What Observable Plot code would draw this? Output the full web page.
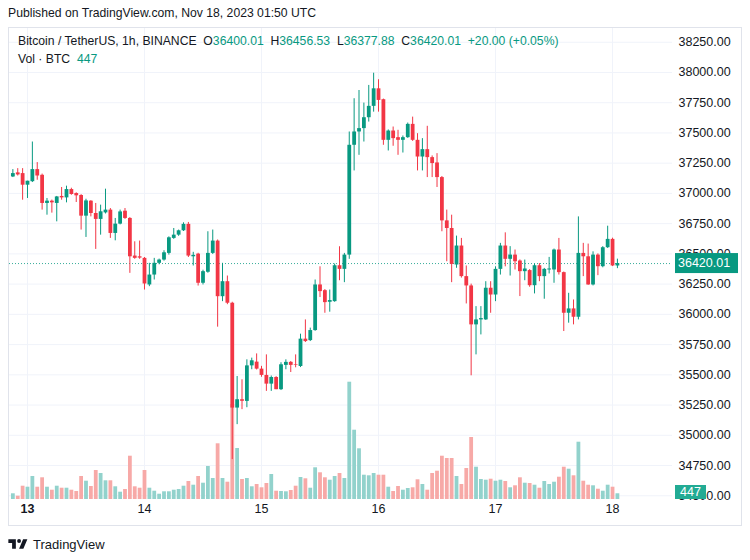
<!DOCTYPE html>
<html>
<head>
<meta charset="utf-8">
<script src="https://cdn.jsdelivr.net/npm/d3@7"></script>
<script src="https://cdn.jsdelivr.net/npm/@observablehq/plot@0.6"></script>
<style>
  html, body { margin: 0; padding: 0; background: #fff; }
  body { font-family: "Liberation Sans", Arial, sans-serif; color: #131722; }
  #wrap { position: relative; width: 750px; height: 560px; overflow: hidden; }
  #published { position: absolute; left: 8px; top: 6px; font-size: 12.2px; color: #131722; white-space: nowrap; }
  #pane { position: absolute; left: 0; top: 27px; width: 750px; height: 498px; }
  #pane svg { position: absolute; left: 0; top: 0; }
  #frame { position: absolute; left: 8px; top: 27px; width: 734px; height: 499px; box-sizing: border-box; border: 1px solid #e0e3eb; pointer-events: none; }
  .legend { position: absolute; left: 18px; font-size: 12.2px; white-space: nowrap; color: #131722; }
  .legend .v { color: #089981; }
  #footer { position: absolute; left: 8px; top: 537px; display: flex; align-items: center; gap: 5px; font-size: 13px; color: #131722; }
</style>
</head>
<body>
<div id="wrap">
  <div id="published">Published on TradingView.com, Nov 18, 2023 01:50 UTC</div>
  <div id="pane"></div>
  <div id="frame"></div>
  <div class="legend" style="top:34px">Bitcoin / TetherUS, 1h, BINANCE&nbsp;&nbsp;O<span class="v">36400.01</span>&nbsp;&nbsp;H<span class="v">36456.53</span>&nbsp;&nbsp;L<span class="v">36377.88</span>&nbsp;&nbsp;C<span class="v">36420.01</span>&nbsp;&nbsp;<span class="v">+20.00 (+0.05%)</span></div>
  <div class="legend" style="top:52px">Vol · BTC&nbsp;&nbsp;<span class="v">447</span></div>
  <div id="footer">
    <svg width="20" height="15" viewBox="0 0 36 28"><path d="M14 22H7V11H0V4h14v18zM28 22h-8l7.5-18h8L28 22z" fill="#131722"/><circle cx="20" cy="7.5" r="3.6" fill="#131722"/></svg>
    <span>TradingView</span>
  </div>
</div>
<script>
// ---- data (BTC/USDT 1h, Binance), first candle Nov 12 2023 21:00 UTC ----
const firstCandleUTC = "2023-11-12T21:00:00Z";
const opens = [37136,37170,37164,37068,37097,37197,37150,36917,36936,36917,36975,36963,37032,36999,36983,36812,36936,36834,36785,36839,36862,36669,36746,36853,36793,36482,36476,36463,36243,36325,36422,36449,36504,36628,36655,36691,36744,36476,36498,36257,36348,36504,36606,36146,36270,36092,35225,35294,35280,35574,35605,35547,35495,35423,35478,35377,35578,35603,35583,35569,35795,35783,35866,36243,36196,36100,36105,36402,36372,36490,37398,37508,37536,37626,37720,37865,37775,37439,37516,37461,37439,37461,37571,37439,37301,37362,37296,37252,37131,36773,36710,36408,36565,36312,36235,35913,35954,35954,36216,36160,36372,36565,36455,36490,36441,36353,36362,36237,36402,36312,36367,36367,36532,36345,36009,36045,35976,36504,36476,36243,36490,36394,36551,36620,36400.01];
const highs = [37197,37205,37205,37101,37425,37255,37160,36958,36945,36975,37049,37060,37043,37005,36990,36952,36940,36917,36903,37035,36875,36793,36862,36875,36800,36600,36606,36470,36422,36463,36457,36526,36641,36710,36697,36757,36760,36513,36505,36365,36683,36697,36615,36422,36317,36100,35486,35459,35624,35638,35673,35570,35665,35490,35485,35600,35624,35610,35665,35836,35954,35886,36284,36393,36205,36201,36416,36559,36504,37508,37783,37851,37747,37893,37994,37940,37780,37525,37549,37522,37475,37582,37631,37494,37453,37555,37310,37329,37140,36862,36820,36647,36628,36400,36250,36064,36064,36270,36270,36393,36587,36674,36560,36532,36450,36449,36370,36416,36420,36380,36471,36540,36628,36350,36174,36119,36806,36587,36581,36517,36500,36560,36729,36630,36456.53];
const lows = [37131,37144,36944,36958,37090,37109,36862,36820,36837,36765,36944,36922,36985,36925,36697,36636,36806,36537,36655,36830,36628,36608,36740,36785,36339,36455,36455,36201,36229,36284,36410,36440,36490,36620,36645,36685,36470,36400,36234,36243,36340,36495,35894,36105,36080,34799,35088,35212,35228,35542,35540,35480,35363,35363,35377,35370,35542,35519,35558,35560,35767,35775,35860,36139,36009,36018,36100,36278,36262,36455,37186,37315,37425,37590,37672,37672,37398,37351,37390,37315,37334,37455,37430,37186,37186,37131,37131,37049,36683,36435,36262,36381,36300,36086,35492,35665,35830,35950,36009,36105,36325,36393,36317,36367,36147,36278,36224,36169,36270,36125,36334,36257,36325,35858,35927,35913,35954,36312,36240,36235,36320,36385,36545,36395,36377.88];
const closes = [37164,37153,37068,37101,37197,37144,36917,36936,36922,36971,36963,37032,36991,36980,36812,36938,36834,36785,36848,36862,36669,36746,36847,36793,36476,36463,36465,36251,36325,36422,36449,36509,36633,36655,36691,36744,36482,36488,36257,36353,36504,36606,36146,36270,36092,35225,35294,35281,35574,35616,35547,35495,35423,35478,35377,35583,35603,35578,35578,35795,35775,35866,36243,36188,36097,36114,36402,36372,36490,37398,37508,37536,37626,37720,37865,37769,37439,37516,37453,37439,37461,37571,37439,37301,37362,37296,37247,37131,36773,36710,36413,36565,36312,36235,35913,35954,35965,36216,36160,36372,36565,36455,36490,36435,36353,36375,36237,36402,36312,36372,36375,36532,36345,36009,36045,35976,36504,36476,36243,36490,36394,36551,36620,36400.01,36420.01];
const volumes = [445,257,1037,959,1794,959,1693,959,725,1037,881,881,725,624,1794,1427,1014,2262,2028,1459,1459,991,569,780,3377,991,881,2262,881,647,413,601,601,725,780,1037,1404,1115,1794,1271,2574,1638,4345,1638,1349,7410,3978,1560,1638,991,1170,913,1248,1950,647,624,601,702,1037,1716,1615,881,2473,2083,1693,1505,1794,2028,1638,9149,5405,3955,1895,1849,2028,1895,1895,959,624,1014,725,858,913,1537,1170,725,2028,2207,3377,3198,3198,1794,1170,2418,4836,2519,1560,1505,1583,1427,1505,1404,913,1069,1693,1271,1248,1115,881,1404,1170,1349,1739,2519,2363,1849,4469,1427,1115,1069,803,647,1115,959,447];
const priceTicks = [34500,34750,35000,35250,35500,35750,36000,36250,36500,36750,37000,37250,37500,37750,38000,38250];
const dayLabels = ["2023-11-13","2023-11-14","2023-11-15","2023-11-16","2023-11-17","2023-11-18"];
const lastPriceLabel = "36420.01";
const lastVolumeLabel = "447";

// ---- styling / layout ----
const UP = "#089981", DOWN = "#f23645";
const UP_VOL = "#92d2cc", DOWN_VOL = "#f7a9a7";
const GRID = "#f0f3fa";
const FONT = '"Liberation Sans", Arial, sans-serif';
const W = 750, H = 498, ML = 9, MR = 78, MT = 0, MB = 26;
const HOUR = 3600e3;
const day13 = Date.UTC(2023, 10, 13);
const xDomain = [new Date(day13 - 3.69 * HOUR), new Date(day13 + 132.3 * HOUR)];
const yDomain = [34469, 38372];

const t0 = new Date(firstCandleUTC).getTime();
const data = opens.map((o, i) => ({
  t: new Date(t0 + i * HOUR), o, h: highs[i], l: lows[i], c: closes[i], v: volumes[i]
}));
const days = dayLabels.map(d => new Date(d + "T00:00:00Z"));
const lastClose = closes[closes.length - 1];
const lastVol = volumes[volumes.length - 1];

const base = {
  width: W, height: H, marginLeft: ML, marginRight: MR, marginTop: MT, marginBottom: MB,
  style: { background: "transparent", fontFamily: FONT, fontSize: "12.5px", color: "#131722" },
  x: { type: "utc", domain: xDomain, axis: null }
};

// layer 1: grid + axes
const gridChart = Plot.plot({
  ...base,
  y: { domain: yDomain, axis: null },
  marks: [
    Plot.ruleY(priceTicks, { stroke: GRID }),
    Plot.ruleX(days, { stroke: GRID }),
    Plot.axisY(priceTicks, { anchor: "right", tickSize: 0, tickPadding: 6, tickFormat: d => d.toFixed(2), label: null, fill: "#131722", fontSize: 12.5 }),
    Plot.text(days.slice(0, 1), { x: d => d, frameAnchor: "bottom", dy: 13, text: d => d3.utcFormat("%-d")(d), fill: "#131722", fontWeight: "bold", fontSize: 12.5 }),
    Plot.text(days.slice(1), { x: d => d, frameAnchor: "bottom", dy: 13, text: d => d3.utcFormat("%-d")(d), fill: "#131722", fontSize: 12.5 })
  ]
});

// layer 2: volume
const volChart = Plot.plot({
  ...base,
  y: { domain: [0, 472 * 78], axis: null },
  marks: [
    Plot.ruleX(data, { x: "t", y1: 0, y2: "v", stroke: d => d.c >= d.o ? UP_VOL : DOWN_VOL, strokeWidth: 3.8 })
  ]
});

// layer 3: candles
const candleChart = Plot.plot({
  ...base,
  y: { domain: yDomain, axis: null },
  marks: [
    Plot.ruleY([lastClose], { stroke: UP, strokeOpacity: 0.8, strokeDasharray: "1,2" }),
    Plot.ruleX(data, { x: "t", y1: "l", y2: "h", stroke: d => d.c >= d.o ? UP : DOWN, strokeWidth: 1 }),
    Plot.ruleX(data, { x: "t", y1: "o", y2: "c", stroke: d => d.c >= d.o ? UP : DOWN, strokeWidth: 3.8 })
  ]
});

const pane = document.getElementById("pane");
pane.append(gridChart, volChart, candleChart);

// price tags in the axis margin, placed with the charts' own scales
const svg = d3.select(candleChart);
const plotRight = W - MR;
const yP = candleChart.scale("y").apply(lastClose);
const gP = svg.append("g").attr("text-anchor", "start");
gP.append("rect").attr("x", plotRight + 3).attr("y", yP - 10).attr("width", 63).attr("height", 20).attr("fill", UP);
gP.append("text").attr("x", plotRight + 6).attr("y", yP).attr("dy", "0.35em").attr("fill", "#fff")
  .attr("text-anchor", "start").attr("font-family", FONT).attr("font-size", 12.5).text(lastPriceLabel);

const yV = Math.min(volChart.scale("y").apply(lastVol), H - MB - 7);
const gV = svg.append("g").attr("text-anchor", "start");
gV.append("rect").attr("x", plotRight + 3).attr("y", yV - 7).attr("width", 31).attr("height", 14).attr("fill", "#22ab94");
gV.append("text").attr("x", plotRight + 8).attr("y", yV).attr("dy", "0.35em").attr("fill", "#fff")
  .attr("text-anchor", "start").attr("font-family", FONT).attr("font-size", 12.5).text(lastVolumeLabel);
</script>
</body>
</html>
